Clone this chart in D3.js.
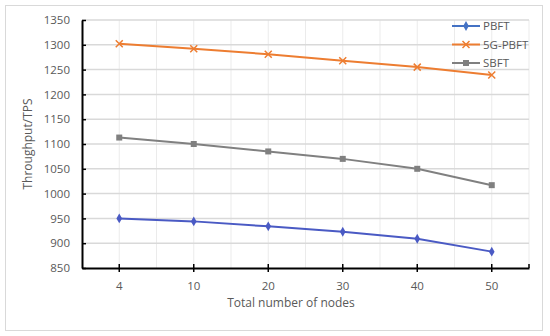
<!DOCTYPE html>
<html>
<head>
<meta charset="utf-8">
<script src="https://cdn.jsdelivr.net/npm/d3@7"></script>
<style>
  body { margin: 0; background: #fff; }
  text { font-family: "Open Sans", sans-serif; fill: #595959; }
</style>
</head>
<body>
<svg width="550" height="336"></svg>
<script>
const svg = d3.select('svg');

const nodes = ['4', '10', '20', '30', '40', '50'];
const pbft = [950, 944, 934, 923, 909, 883];
const pbft5g = [1302, 1292, 1281, 1268, 1255, 1239];
const sbft = [1113, 1100, 1085, 1070, 1050, 1017];
const yTicks = [850, 900, 950, 1000, 1050, 1100, 1150, 1200, 1250, 1300, 1350];

const series = [
  { name: 'PBFT', values: pbft, color: '#4a5ac4', legendColor: '#4472c4', marker: 'diamond' },
  { name: '5G-PBFT', values: pbft5g, color: '#ed7d31', legendColor: '#ed7d31', marker: 'x' },
  { name: 'SBFT', values: sbft, color: '#808080', legendColor: '#808080', marker: 'square' }
];

// chart frame
svg.append('rect')
  .attr('x', 5.5).attr('y', 5.5)
  .attr('width', 537).attr('height', 325)
  .attr('fill', '#fff')
  .attr('stroke', '#d9d9d9');

const plotL = 82, plotR = 529, plotT = 20, plotB = 268;

const x = d3.scaleBand().domain(nodes).range([plotL, plotR]);
const y = d3.scaleLinear().domain([850, 1350]).range([plotB, plotT]);

// gridlines
const g = svg.append('g');
const vLines = [];
nodes.forEach((d, i) => {
  vLines.push(x(d) + x.bandwidth() / 2);
  if (i > 0) vLines.push(x(d));
});
vLines.push(plotR);
g.selectAll('.vgrid').data(vLines).enter().append('line')
  .attr('x1', d => d).attr('x2', d => d)
  .attr('y1', plotT).attr('y2', plotB)
  .attr('stroke', '#ebebeb').attr('stroke-width', 1);
g.selectAll('.hgrid').data(yTicks.slice(1)).enter().append('line')
  .attr('x1', plotL).attr('x2', plotR)
  .attr('y1', d => y(d)).attr('y2', d => y(d))
  .attr('stroke', '#d9d9d9').attr('stroke-width', 1.5);

// axes
const yAxis = svg.append('g')
  .attr('transform', `translate(${plotL},0)`)
  .call(d3.axisLeft(y).tickValues(yTicks).tickFormat(d3.format('d')).tickSize(0).tickPadding(12));
yAxis.select('.domain').attr('stroke', '#000').attr('stroke-width', 2);
yAxis.selectAll('text').style('font-size', '11.5px').style('font-family', '"Open Sans", sans-serif').attr('fill', '#595959');
yAxis.selectAll('.tick').append('line')
  .attr('x1', 0).attr('x2', 4).attr('stroke', '#000').attr('stroke-width', 1.5);

const xAxis = svg.append('g')
  .attr('transform', `translate(0,${plotB})`)
  .call(d3.axisBottom(x).tickSize(4).tickPadding(10).tickSizeOuter(0));
xAxis.select('.domain').attr('stroke', '#000').attr('stroke-width', 2);
xAxis.selectAll('.tick line').attr('stroke', '#000').attr('stroke-width', 1.5).attr('y1', -4);
xAxis.selectAll('text').style('font-size', '11.5px').style('font-family', '"Open Sans", sans-serif').attr('fill', '#595959');
svg.append('line')
  .attr('x1', plotR).attr('x2', plotR).attr('y1', plotB - 4).attr('y2', plotB)
  .attr('stroke', '#000').attr('stroke-width', 1.5);

// axis titles
svg.append('text')
  .attr('transform', 'translate(32,144) rotate(-90)')
  .attr('text-anchor', 'middle')
  .style('font-size', '12px')
  .text('Throughput/TPS');
svg.append('text')
  .attr('x', 291).attr('y', 307)
  .attr('text-anchor', 'middle')
  .style('font-size', '12px')
  .text('Total number of nodes');

const cx = (d, i) => x(nodes[i]) + x.bandwidth() / 2;

const drawMarker = (sel, type, color) => {
  if (type === 'diamond') {
    sel.append('path').attr('d', d3.symbol(d3.symbolDiamond, 28)())
      .attr('fill', color);
  } else if (type === 'square') {
    sel.append('rect').attr('x', -3).attr('y', -3).attr('width', 6).attr('height', 6)
      .attr('fill', color);
  } else {
    sel.append('path').attr('d', 'M-3.5,-3.5L3.5,3.5M-3.5,3.5L3.5,-3.5')
      .attr('stroke', color).attr('stroke-width', 1.5).attr('fill', 'none');
  }
};

const line = d3.line().x(cx).y(d => y(d));

series.forEach(s => {
  svg.append('path')
    .datum(s.values)
    .attr('d', line)
    .attr('fill', 'none')
    .attr('stroke', s.color)
    .attr('stroke-width', 2);
  s.values.forEach((v, i) => {
    const m = svg.append('g').attr('transform', `translate(${cx(v, i)},${y(v)})`);
    drawMarker(m, s.marker, s.color);
  });
});

// legend
const legend = svg.append('g').attr('transform', 'translate(452,26)');
series.forEach((s, i) => {
  const row = legend.append('g').attr('transform', `translate(0,${i * 18.5})`);
  row.append('line').attr('x1', 0).attr('x2', 28).attr('y1', 0).attr('y2', 0)
    .attr('stroke', s.legendColor).attr('stroke-width', 2);
  const m = row.append('g').attr('transform', 'translate(14,0)');
  drawMarker(m, s.marker, s.legendColor);
  row.append('text').attr('x', 31).attr('y', 4.2)
    .style('font-size', '11.5px')
    .text(s.name);
});
</script>
</body>
</html>
